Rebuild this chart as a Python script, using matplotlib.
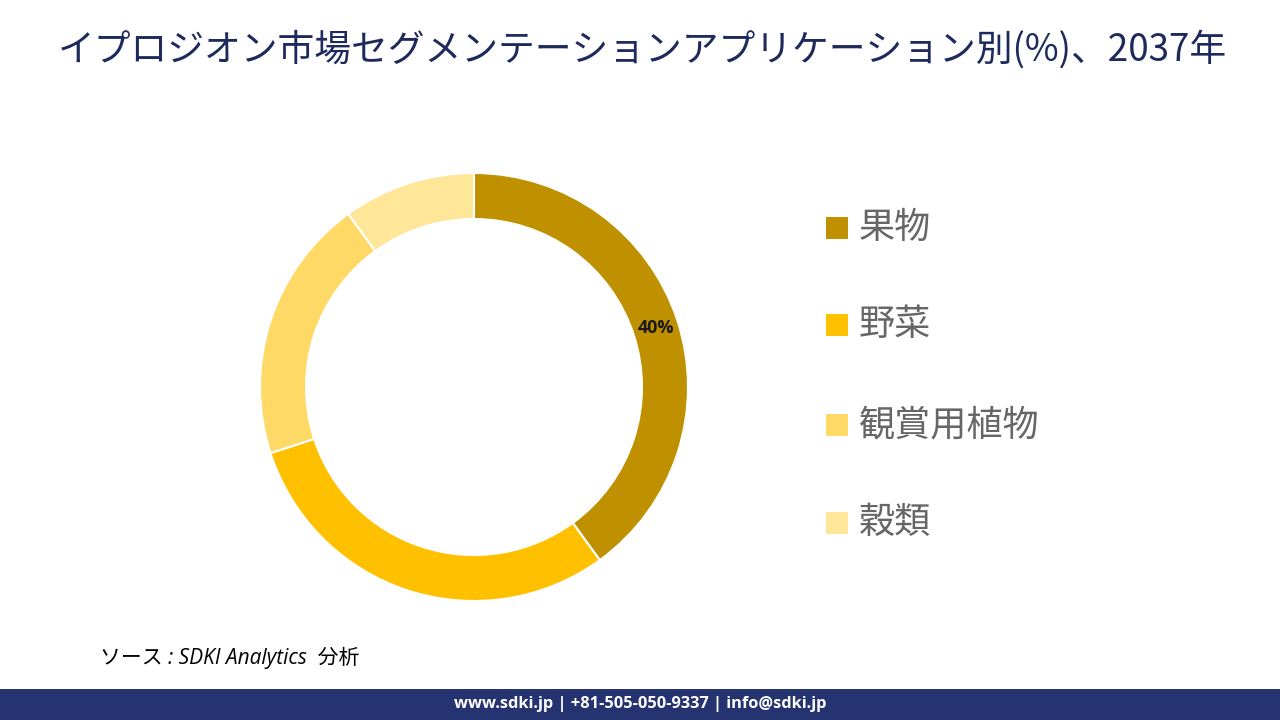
import matplotlib
matplotlib.use("Agg")
import matplotlib.pyplot as plt
from matplotlib.patches import Rectangle
import numpy as np

plt.rcParams['font.family'] = ['Noto Sans CJK JP', 'DejaVu Sans']

title = "イプロジオン市場セグメンテーションアプリケーション別(%)、2037年"
categories = ["果物", "野菜", "観賞用植物", "穀類"]
values = [40, 30, 20, 10]
colors = ["#BF9000", "#FFC000", "#FFD966", "#FFE699"]
shown_labels = ["40%", "", "", ""]
source = "ソース : SDKI Analytics  分析"
footer = "www.sdki.jp | +81-505-050-9337 | info@sdki.jp"

W, H = 1280, 720
fig = plt.figure(figsize=(12.8, 7.2), dpi=100)
fig.patch.set_facecolor("white")

# Donut
cx, cy, r = 474, 387, 214
ring = 0.215
ax = fig.add_axes([(cx - r) / W, (H - cy - r) / H, 2 * r / W, 2 * r / H])
ax.pie(values, colors=colors, startangle=90, counterclock=False, radius=1.0,
       wedgeprops=dict(width=ring, edgecolor="white", linewidth=1.5))
cum = 0
for v, lab in zip(values, shown_labels):
    mid = 90 - (cum + v / 2) / sum(values) * 360
    cum += v
    if lab:
        rr = 1 - ring / 2
        ax.text(rr * np.cos(np.radians(mid)), rr * np.sin(np.radians(mid)), lab,
                ha="center", va="center", fontsize=13, fontweight="bold",
                color="#1a1a1a", family=["Open Sans", "DejaVu Sans"])
ax.set_xlim(-1, 1)
ax.set_ylim(-1, 1)
ax.set_aspect("equal")
ax.axis("off")

# Title
fig.text(642 / W, 1 - 50 / H, title, ha="center", va="center",
         fontsize=26.5, color="#1F2A5C")

# Legend
leg_y = [228, 325, 425, 523]
for cat, col, y in zip(categories, colors, leg_y):
    fig.patches.append(Rectangle((826 / W, 1 - (y + 11) / H), 22 / W, 22 / H,
                                 transform=fig.transFigure, facecolor=col,
                                 edgecolor="none"))
    fig.text(859 / W, 1 - y / H, cat, ha="left", va="center",
             fontsize=26, color="#666666")

# Source
fig.text(100 / W, 1 - 658 / H, source, ha="left", va="center",
         fontsize=15, color="black", style="italic",
         family=["Open Sans", "Noto Sans CJK JP"])

# Footer
fig.patches.append(Rectangle((0, 0), 1, 31 / H, transform=fig.transFigure,
                             facecolor="#253470", edgecolor="none"))
fig.text(640 / W, 1 - 704 / H, footer, ha="center", va="center",
         fontsize=11.8, color="white", fontweight="bold",
         family=["Open Sans", "DejaVu Sans"])

fig.savefig("out.png", dpi=100)
